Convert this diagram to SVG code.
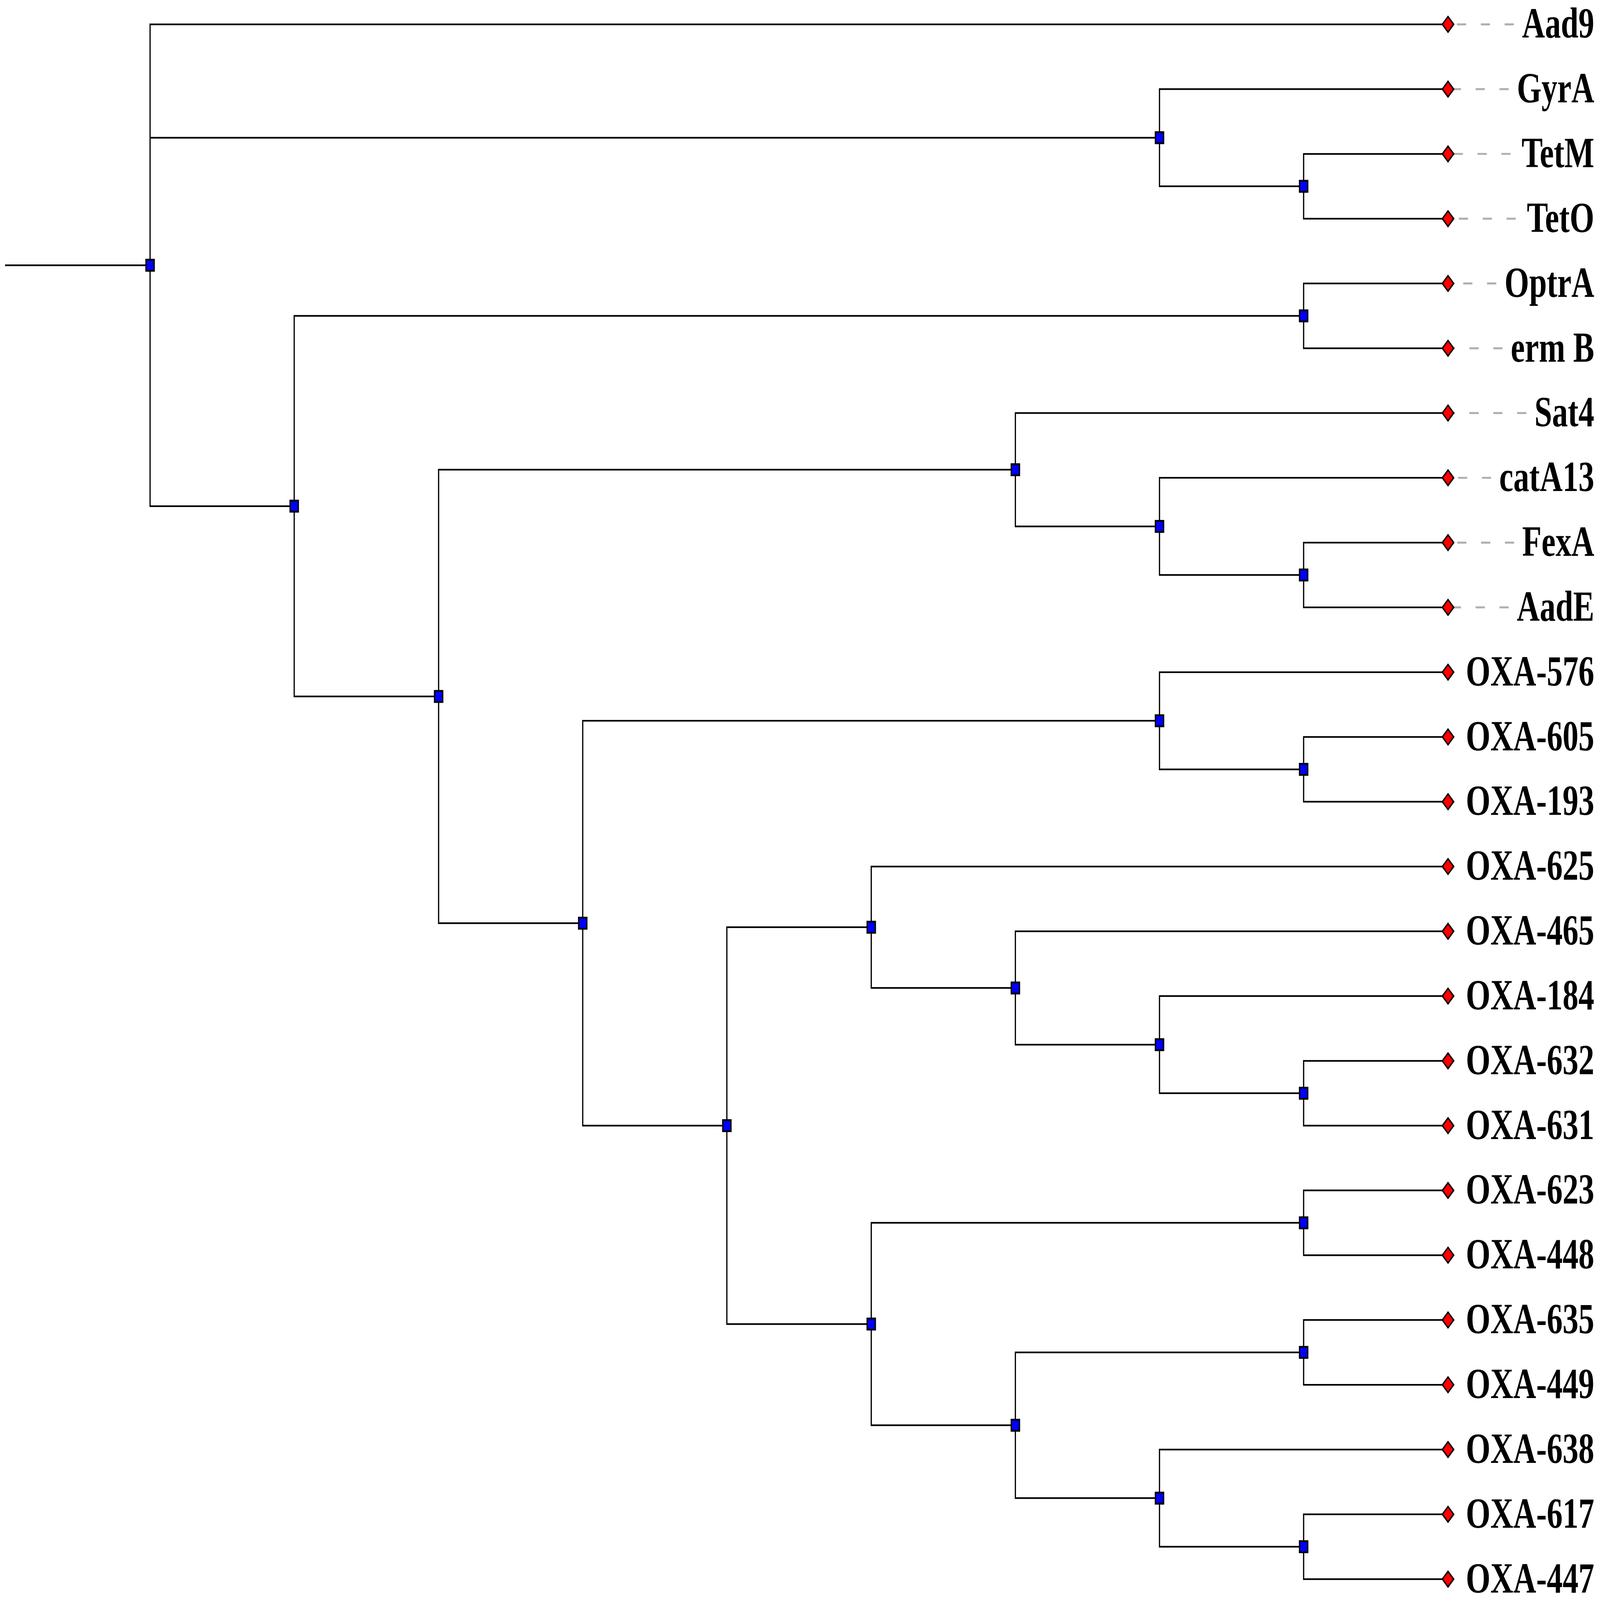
<svg xmlns="http://www.w3.org/2000/svg" xmlns:xlink="http://www.w3.org/1999/xlink" width="5906" height="4337" viewBox="0 0 5906 4337" preserveAspectRatio="none">
<style>
svg{width:100vw;height:100vh;display:block}
.br{fill:none;stroke:#000;stroke-width:4.5;stroke-linecap:square;stroke-linejoin:miter}
.dash{fill:none;stroke:#b0b0b0;stroke-width:5.5;stroke-dasharray:34 54}
.inode{fill:#0000ff;stroke:#000;stroke-width:5}
.leafm{fill:#ff0000;stroke:#000;stroke-width:4.5;stroke-linejoin:miter}
.lbl{font-family:"Liberation Serif","Times New Roman",serif;font-weight:bold;font-size:117px;fill:#000;text-anchor:end}
</style>
<defs>
<path id="dia" class="leafm" d="M0,-21 L21,0 L0,21 L-21,0 Z"/>
<rect id="sq" class="inode" x="-15" y="-15" width="30" height="30"/>
</defs>
<rect width="5906" height="4337" fill="#fff"/>
<g id="connectors">
<path class="br" d="M21 719 H554"/>
<path class="br" d="M5345 66 H554 V1372 H1086 M554 373.3 H4280"/>
<path class="br" d="M5345 241.6 H4280 V505 H4812"/>
<path class="br" d="M5345 417.2 H4812 V592.8 H5345"/>
<path class="br" d="M4812 856.2 H1086 V1887.85 H1619"/>
<path class="br" d="M5345 768.4 H4812 V944 H5345"/>
<path class="br" d="M3748 1273.25 H1619 V2502.45 H2151"/>
<path class="br" d="M5345 1119.6 H3748 V1426.9 H4280"/>
<path class="br" d="M5345 1295.2 H4280 V1558.6 H4812"/>
<path class="br" d="M5345 1470.8 H4812 V1646.4 H5345"/>
<path class="br" d="M4280 1953.7 H2151 V3051.2 H2683"/>
<path class="br" d="M5345 1822 H4280 V2085.4 H4812"/>
<path class="br" d="M5345 1997.6 H4812 V2173.2 H5345"/>
<path class="br" d="M3216 2513.4 H2683 V3589 H3216"/>
<path class="br" d="M5345 2348.8 H3216 V2678.05 H3748"/>
<path class="br" d="M5345 2524.4 H3748 V2831.7 H4280"/>
<path class="br" d="M5345 2700 H4280 V2963.4 H4812"/>
<path class="br" d="M5345 2875.6 H4812 V3051.2 H5345"/>
<path class="br" d="M4812 3314.6 H3216 V3863.35 H3748"/>
<path class="br" d="M5345 3226.8 H4812 V3402.4 H5345"/>
<path class="br" d="M4812 3665.8 H3748 V4060.9 H4280"/>
<path class="br" d="M5345 3578 H4812 V3753.6 H5345"/>
<path class="br" d="M5345 3929.2 H4280 V4192.6 H4812"/>
<path class="br" d="M5345 4104.8 H4812 V4280.4 H5345"/>
</g>
<g id="label-guides">
<path class="dash" d="M5588 66 H5345"/>
<path class="dash" d="M5569 241.6 H5345"/>
<path class="dash" d="M5576 417.2 H5345"/>
<path class="dash" d="M5595 592.8 H5345"/>
<path class="dash" d="M5523 768.4 H5345"/>
<path class="dash" d="M5546 944 H5345"/>
<path class="dash" d="M5634 1119.6 H5345"/>
<path class="dash" d="M5504 1295.2 H5345"/>
<path class="dash" d="M5589 1470.8 H5345"/>
<path class="dash" d="M5569 1646.4 H5345"/>
</g>
<g id="internal-nodes">
<g id="n-root"><use xlink:href="#sq" x="554" y="719"/></g>
<g id="n-A"><use xlink:href="#sq" x="4280" y="373.3"/></g>
<g id="n-A1"><use xlink:href="#sq" x="4812" y="505"/></g>
<g id="n-B"><use xlink:href="#sq" x="1086" y="1372"/></g>
<g id="n-C"><use xlink:href="#sq" x="4812" y="856.2"/></g>
<g id="n-D"><use xlink:href="#sq" x="1619" y="1887.85"/></g>
<g id="n-E"><use xlink:href="#sq" x="3748" y="1273.25"/></g>
<g id="n-E1"><use xlink:href="#sq" x="4280" y="1426.9"/></g>
<g id="n-E2"><use xlink:href="#sq" x="4812" y="1558.6"/></g>
<g id="n-F"><use xlink:href="#sq" x="2151" y="2502.45"/></g>
<g id="n-G"><use xlink:href="#sq" x="4280" y="1953.7"/></g>
<g id="n-G1"><use xlink:href="#sq" x="4812" y="2085.4"/></g>
<g id="n-H"><use xlink:href="#sq" x="2683" y="3051.2"/></g>
<g id="n-I"><use xlink:href="#sq" x="3216" y="2513.4"/></g>
<g id="n-I1"><use xlink:href="#sq" x="3748" y="2678.05"/></g>
<g id="n-I2"><use xlink:href="#sq" x="4280" y="2831.7"/></g>
<g id="n-I3"><use xlink:href="#sq" x="4812" y="2963.4"/></g>
<g id="n-J"><use xlink:href="#sq" x="3216" y="3589"/></g>
<g id="n-J1"><use xlink:href="#sq" x="4812" y="3314.6"/></g>
<g id="n-J2"><use xlink:href="#sq" x="3748" y="3863.35"/></g>
<g id="n-J3"><use xlink:href="#sq" x="4812" y="3665.8"/></g>
<g id="n-J4"><use xlink:href="#sq" x="4280" y="4060.9"/></g>
<g id="n-J5"><use xlink:href="#sq" x="4812" y="4192.6"/></g>
</g>
<g id="leaves">
<g id="leaf-Aad9"><use xlink:href="#dia" x="5345" y="66"/><text class="lbl" x="5885" y="102">Aad9</text></g>
<g id="leaf-GyrA"><use xlink:href="#dia" x="5345" y="241.6"/><text class="lbl" x="5885" y="277.6">GyrA</text></g>
<g id="leaf-TetM"><use xlink:href="#dia" x="5345" y="417.2"/><text class="lbl" x="5885" y="453.2">TetM</text></g>
<g id="leaf-TetO"><use xlink:href="#dia" x="5345" y="592.8"/><text class="lbl" x="5885" y="628.8">TetO</text></g>
<g id="leaf-OptrA"><use xlink:href="#dia" x="5345" y="768.4"/><text class="lbl" x="5885" y="804.4">OptrA</text></g>
<g id="leaf-ermB"><use xlink:href="#dia" x="5345" y="944"/><text class="lbl" x="5885" y="980">erm B</text></g>
<g id="leaf-Sat4"><use xlink:href="#dia" x="5345" y="1119.6"/><text class="lbl" x="5885" y="1155.6">Sat4</text></g>
<g id="leaf-catA13"><use xlink:href="#dia" x="5345" y="1295.2"/><text class="lbl" x="5885" y="1331.2">catA13</text></g>
<g id="leaf-FexA"><use xlink:href="#dia" x="5345" y="1470.8"/><text class="lbl" x="5885" y="1506.8">FexA</text></g>
<g id="leaf-AadE"><use xlink:href="#dia" x="5345" y="1646.4"/><text class="lbl" x="5885" y="1682.4">AadE</text></g>
<g id="leaf-OXA-576"><use xlink:href="#dia" x="5345" y="1822"/><text class="lbl" x="5885" y="1858">OXA-576</text></g>
<g id="leaf-OXA-605"><use xlink:href="#dia" x="5345" y="1997.6"/><text class="lbl" x="5885" y="2033.6">OXA-605</text></g>
<g id="leaf-OXA-193"><use xlink:href="#dia" x="5345" y="2173.2"/><text class="lbl" x="5885" y="2209.2">OXA-193</text></g>
<g id="leaf-OXA-625"><use xlink:href="#dia" x="5345" y="2348.8"/><text class="lbl" x="5885" y="2384.8">OXA-625</text></g>
<g id="leaf-OXA-465"><use xlink:href="#dia" x="5345" y="2524.4"/><text class="lbl" x="5885" y="2560.4">OXA-465</text></g>
<g id="leaf-OXA-184"><use xlink:href="#dia" x="5345" y="2700"/><text class="lbl" x="5885" y="2736">OXA-184</text></g>
<g id="leaf-OXA-632"><use xlink:href="#dia" x="5345" y="2875.6"/><text class="lbl" x="5885" y="2911.6">OXA-632</text></g>
<g id="leaf-OXA-631"><use xlink:href="#dia" x="5345" y="3051.2"/><text class="lbl" x="5885" y="3087.2">OXA-631</text></g>
<g id="leaf-OXA-623"><use xlink:href="#dia" x="5345" y="3226.8"/><text class="lbl" x="5885" y="3262.8">OXA-623</text></g>
<g id="leaf-OXA-448"><use xlink:href="#dia" x="5345" y="3402.4"/><text class="lbl" x="5885" y="3438.4">OXA-448</text></g>
<g id="leaf-OXA-635"><use xlink:href="#dia" x="5345" y="3578"/><text class="lbl" x="5885" y="3614">OXA-635</text></g>
<g id="leaf-OXA-449"><use xlink:href="#dia" x="5345" y="3753.6"/><text class="lbl" x="5885" y="3789.6">OXA-449</text></g>
<g id="leaf-OXA-638"><use xlink:href="#dia" x="5345" y="3929.2"/><text class="lbl" x="5885" y="3965.2">OXA-638</text></g>
<g id="leaf-OXA-617"><use xlink:href="#dia" x="5345" y="4104.8"/><text class="lbl" x="5885" y="4140.8">OXA-617</text></g>
<g id="leaf-OXA-447"><use xlink:href="#dia" x="5345" y="4280.4"/><text class="lbl" x="5885" y="4316.4">OXA-447</text></g>
</g>
</svg>
